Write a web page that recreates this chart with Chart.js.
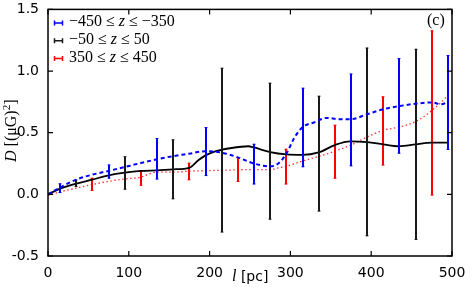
<!DOCTYPE html>
<html>
<head>
<meta charset="utf-8">
<script src="https://cdn.jsdelivr.net/npm/chart.js@4.4.0/dist/chart.umd.min.js"></script>
<style>
  html, body { margin: 0; padding: 0; background: #fff; }
  #wrap { width: 473px; height: 292px; }
</style>
</head>
<body>
<div id="wrap"><canvas id="chart" width="473" height="292"></canvas></div>
<script>
// smooth curves, D(l) for the three z slices
const blueL = [0, 15, 35, 55, 75, 95, 115, 135, 155, 175, 195, 215, 235, 255, 275, 285, 295, 305, 315, 330, 345, 360, 375, 395, 415, 435, 455, 475, 487, 495]
const blueD = [0, 0.055, 0.12, 0.16, 0.19, 0.222, 0.254, 0.285, 0.31, 0.33, 0.35, 0.338, 0.30, 0.25, 0.227, 0.25, 0.33, 0.46, 0.545, 0.585, 0.62, 0.61, 0.61, 0.65, 0.69, 0.716, 0.735, 0.745, 0.73, 0.75]

const blackL = [0, 15, 35, 55, 75, 95, 115, 135, 155, 175, 186, 195, 208, 227, 248, 255, 275, 295, 315, 335, 355, 374, 395, 415, 434, 455, 475, 495]
const blackD = [0, 0.046, 0.087, 0.12, 0.154, 0.176, 0.19, 0.195, 0.203, 0.215, 0.276, 0.316, 0.35, 0.376, 0.39, 0.38, 0.343, 0.324, 0.32, 0.34, 0.40, 0.43, 0.424, 0.405, 0.39, 0.405, 0.42, 0.42]

const redL = [0, 15, 35, 55, 75, 95, 115, 125, 135, 155, 175, 215, 248, 275, 285, 295, 315, 335, 355, 375, 395, 415, 435, 455, 475, 495]
const redD = [-0.01, 0.02, 0.05, 0.08, 0.105, 0.125, 0.14, 0.165, 0.18, 0.18, 0.188, 0.195, 0.2, 0.2, 0.215, 0.228, 0.27, 0.308, 0.35, 0.40, 0.465, 0.52, 0.546, 0.59, 0.68, 0.80]

// error bars (low / high ends)
const blueErrL = [15, 75, 135, 195, 255, 315, 375, 435, 495]
const blueLow = [0.01, 0.127, 0.12, 0.148, 0.08, 0.22, 0.227, 0.33, 0.36]
const blueHigh = [0.09, 0.243, 0.457, 0.546, 0.41, 0.865, 0.98, 1.105, 1.13]

const blackErrL = [35, 95, 155, 215, 275, 335, 395, 455]
const blackLow = [0.06, 0.038, -0.04, -0.31, -0.205, -0.14, -0.34, -0.37]
const blackHigh = [0.12, 0.31, 0.446, 1.027, 0.905, 0.80, 1.19, 1.18]

const redErrL = [55, 115, 175, 235, 295, 355, 415, 475]
const redLow = [0.027, 0.07, 0.114, 0.10, 0.08, 0.127, 0.233, -0.01]
const redHigh = [0.135, 0.19, 0.257, 0.30, 0.37, 0.565, 0.795, 1.33]

const zRanges = [[-450, -350], [-50, 50], [350, 450]]
const xTicks = [0, 100, 200, 300, 400, 500]
const yTicks = [-0.5, 0, 0.5, 1.0, 1.5]

const pts = (xs, ys) => xs.map((v, i) => ({ x: v, y: ys[i] }))
const minus = n => (n < 0 ? "\u2212" + (-n) : String(n))

const SERIF = "'Liberation Serif', 'DejaVu Serif', serif"
const SANS = "'DejaVu Sans', sans-serif"

// draws each dataset's error bars right after its line
const errorBars = {
  id: "errorBars",
  afterDatasetDraw(chart, args) {
    const ds = chart.data.datasets[args.index]
    if (!ds.errX) return
    const { ctx, scales: { x, y } } = chart
    ctx.save()
    ds.errX.forEach((lx, i) => {
      const px = Math.round(x.getPixelForValue(lx))
      const top = y.getPixelForValue(ds.errHigh[i])
      const bot = y.getPixelForValue(ds.errLow[i])
      ctx.strokeStyle = ds.errColor
      ctx.lineWidth = 2
      ctx.beginPath()
      ctx.moveTo(px, top); ctx.lineTo(px, bot)
      ctx.stroke()
      // tiny caps, barely visible in the original
      ctx.globalAlpha = 0.45
      ctx.lineWidth = 1
      ctx.beginPath()
      ctx.moveTo(px - 2, top + 0.5); ctx.lineTo(px + 2, top + 0.5)
      ctx.moveTo(px - 2, bot - 0.5); ctx.lineTo(px + 2, bot - 0.5)
      ctx.stroke()
      ctx.globalAlpha = 1
    })
    ctx.restore()
  }
}

function drawParts(ctx, parts, x, y) {
  parts.forEach(p => {
    ctx.font = p.font
    ctx.fillText(p.t, x, y + (p.dy || 0))
    x += ctx.measureText(p.t).width
  })
}

// frame, inward ticks, legend, titles
const decorations = {
  id: "decorations",
  afterDraw(chart) {
    const { ctx, chartArea: a, scales: { x, y } } = chart
    ctx.save()
    ctx.strokeStyle = "#000"
    ctx.lineWidth = 1.5
    ctx.strokeRect(a.left, a.top, a.right - a.left, a.bottom - a.top)

    ctx.lineWidth = 1.2
    ctx.beginPath()
    xTicks.forEach(v => {
      const px = x.getPixelForValue(v)
      ctx.moveTo(px, a.bottom); ctx.lineTo(px, a.bottom - 5)
      ctx.moveTo(px, a.top); ctx.lineTo(px, a.top + 5)
    })
    yTicks.forEach(v => {
      const py = y.getPixelForValue(v)
      ctx.moveTo(a.left, py); ctx.lineTo(a.left + 5, py)
      ctx.moveTo(a.right, py); ctx.lineTo(a.right - 5, py)
    })
    ctx.stroke()

    // legend
    ctx.fillStyle = "#000"
    ctx.textBaseline = "alphabetic"
    chart.data.datasets.forEach((ds, i) => {
      const base = 26 + i * 17.8
      const cy = base - 3
      ctx.strokeStyle = ds.errColor
      ctx.lineWidth = 1.5
      ctx.beginPath()
      ctx.moveTo(54, cy); ctx.lineTo(63, cy)
      ctx.moveTo(54.5, cy - 2.5); ctx.lineTo(54.5, cy + 2.5)
      ctx.moveTo(62.5, cy - 2.5); ctx.lineTo(62.5, cy + 2.5)
      ctx.stroke()
      const [lo, hi] = zRanges[i]
      drawParts(ctx, [
        { t: minus(lo) + " \u2264 ", font: "16px " + SERIF },
        { t: "z", font: "italic 16px " + SERIF },
        { t: " \u2264 " + minus(hi), font: "16px " + SERIF }
      ], 69, base)
    })

    // panel label
    ctx.font = "16px " + SERIF
    ctx.fillText("(c)", 427, 25)

    // x title
    drawParts(ctx, [
      { t: "l", font: "italic 16px " + SERIF },
      { t: " [pc]", font: "14px " + SANS }
    ], 232, 281)

    // y title
    ctx.translate(16, 162)
    ctx.rotate(-Math.PI / 2)
    drawParts(ctx, [
      { t: "D", font: "italic 16px " + SERIF },
      { t: " [(\u03bcG)", font: "16px " + SERIF },
      { t: "2", font: "11px " + SERIF, dy: -6 },
      { t: "]", font: "16px " + SERIF }
    ], 0, 0)
    ctx.restore()
  }
}

const lineSet = (label, xs, ys, color, errColor, width, dash, errX, errLow, errHigh) => ({
  label,
  data: pts(xs, ys),
  showLine: true,
  borderColor: color,
  borderWidth: width,
  borderDash: dash,
  pointRadius: 0,
  cubicInterpolationMode: "monotone",
  errX, errLow, errHigh,
  errColor
})

new Chart(document.getElementById("chart"), {
  type: "scatter",
  data: {
    datasets: [
      lineSet("blue", blueL, blueD, "#0000ff", "#0000ff", 2, [4, 3], blueErrL, blueLow, blueHigh),
      lineSet("black", blackL, blackD, "#000000", "#1a1a1a", 1.8, [], blackErrL, blackLow, blackHigh),
      lineSet("red", redL, redD, "rgba(255,0,0,0.8)", "#ff0000", 1.3, [1.5, 2.5], redErrL, redLow, redHigh)
    ]
  },
  options: {
    responsive: false,
    devicePixelRatio: 1,
    animation: false,
    layout: { padding: { left: 0, top: 9, right: 21, bottom: 0 } },
    plugins: { legend: { display: false }, tooltip: { enabled: false } },
    scales: {
      x: {
        type: "linear",
        min: 0, max: 500,
        afterBuildTicks: s => { s.ticks = xTicks.map(v => ({ value: v })) },
        afterFit: s => { s.height = 36 },
        grid: { display: false },
        border: { display: false },
        ticks: { color: "#000", font: { family: SANS, size: 14 }, padding: 1, maxRotation: 0 }
      },
      y: {
        type: "linear",
        min: -0.5, max: 1.5,
        afterBuildTicks: s => { s.ticks = yTicks.map(v => ({ value: v })) },
        afterFit: s => { s.width = 48 },
        grid: { display: false },
        border: { display: false },
        ticks: { color: "#000", font: { family: SANS, size: 14 }, padding: 1, callback: v => v.toFixed(1) }
      }
    }
  },
  plugins: [errorBars, decorations]
})
</script>
</body>
</html>
